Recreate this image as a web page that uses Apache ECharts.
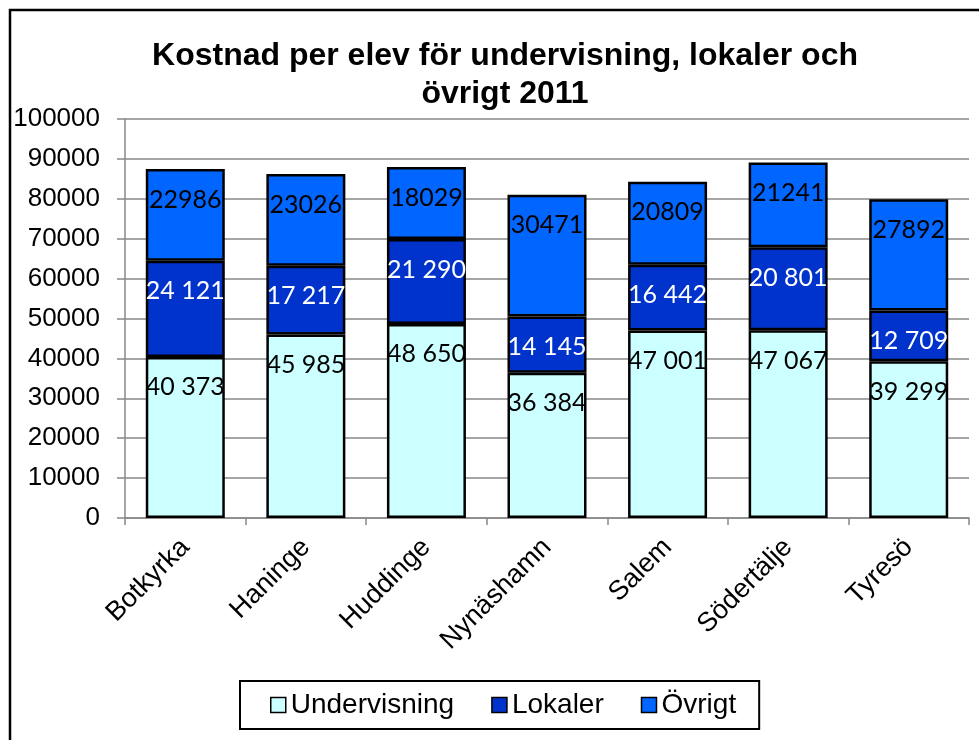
<!DOCTYPE html>
<html>
<head>
<meta charset="utf-8">
<script src="https://cdn.jsdelivr.net/npm/echarts@6/dist/echarts.min.js"></script>
<style>
  html, body { margin: 0; padding: 0; background: #fff; }
  #chart { width: 979px; height: 740px; }
</style>
</head>
<body>
<div id="chart"></div>
<script>
const kommuner = ["Botkyrka", "Haninge", "Huddinge", "Nynäshamn", "Salem", "Södertälje", "Tyresö"]
const undervisning = [40373, 45985, 48650, 36384, 47001, 47067, 39299]
const lokaler = [24121, 17217, 21290, 14145, 16442, 20801, 12709]
const ovrigt = [22986, 23026, 18029, 30471, 20809, 21241, 27892]
const yTicks = [0, 10000, 20000, 30000, 40000, 50000, 60000, 70000, 80000, 90000, 100000]

// mellanslag som tusentalsavgränsare, som i originalet
function spaced(v) {
  return String(v).replace(/\B(?=(\d{3})+(?!\d))/g, " ")
}

const labelBase = {
  show: true,
  position: "insideTop",
  distance: 18,
  fontFamily: "Lato",
  fontSize: 25,
  lineHeight: 25
}

const myChart = echarts.init(document.getElementById("chart"))
const option = {
  animation: false,
  textStyle: { fontFamily: "Liberation Sans, Arial, sans-serif" },
  title: {
    text: "Kostnad per elev för undervisning, lokaler och\növrigt 2011",
    left: 500,
    textAlign: "center",
    top: 32,
    textStyle: {
      fontFamily: "Liberation Sans, Arial, sans-serif",
      fontWeight: "bold",
      fontSize: 32,
      lineHeight: 38,
      color: "#000"
    }
  },
  graphic: [
    {
      type: "rect",
      shape: { x: 10, y: 10, width: 990, height: 760 },
      style: { fill: "none", stroke: "#000", lineWidth: 2.5 },
      silent: true
    }
  ],
  legend: {
    bottom: 11,
    left: 240,
    padding: [10, 23, 10, 30],
    borderColor: "#000",
    borderWidth: 2,
    itemWidth: 15,
    itemHeight: 15,
    itemGap: 37,
    icon: "rect",
    itemStyle: { borderColor: "#000", borderWidth: 1.5 },
    textStyle: {
      fontFamily: "Liberation Sans, Arial, sans-serif",
      fontSize: 28,
      color: "#000"
    },
    data: ["Undervisning", "Lokaler", "Övrigt"]
  },
  grid: {
    left: 125,
    right: 10,
    top: 119,
    bottom: 222,
    containLabel: false
  },
  xAxis: {
    type: "category",
    data: kommuner,
    axisLine: { lineStyle: { color: "#888", width: 1.5 } },
    axisTick: { show: true, length: 7, lineStyle: { color: "#888", width: 1.5 } },
    axisLabel: {
      rotate: 45,
      margin: 25,
      fontSize: 27,
      color: "#000",
      fontFamily: "Liberation Sans, Arial, sans-serif"
    }
  },
  yAxis: {
    type: "value",
    min: 0,
    max: 100000,
    interval: 10000,
    axisLine: { show: true, lineStyle: { color: "#888", width: 1.5 } },
    axisTick: { show: true, length: 8, lineStyle: { color: "#888", width: 1.5 } },
    splitLine: { lineStyle: { color: "#888", width: 1.5 } },
    axisLabel: {
      margin: 25,
      fontSize: 26,
      color: "#000",
      fontFamily: "Liberation Sans, Arial, sans-serif",
      formatter: function (v) {
        return yTicks.includes(v) ? String(v) : ""
      }
    }
  },
  series: [
    {
      name: "Undervisning",
      type: "bar",
      stack: "total",
      barWidth: 79,
      data: undervisning,
      itemStyle: { color: "#CCFFFF", borderColor: "#000", borderWidth: 2.5 },
      label: Object.assign({}, labelBase, {
        color: "#000",
        formatter: (p) => spaced(p.value)
      })
    },
    {
      name: "Lokaler",
      type: "bar",
      stack: "total",
      barWidth: 79,
      data: lokaler,
      itemStyle: { color: "#0033CC", borderColor: "#000", borderWidth: 2.5 },
      label: Object.assign({}, labelBase, {
        color: "#fff",
        formatter: (p) => spaced(p.value)
      })
    },
    {
      name: "Övrigt",
      type: "bar",
      stack: "total",
      barWidth: 79,
      data: ovrigt,
      itemStyle: { color: "#0066FF", borderColor: "#000", borderWidth: 2.5 },
      label: Object.assign({}, labelBase, {
        color: "#000",
        formatter: (p) => String(p.value)
      })
    }
  ]
}
myChart.setOption(option)
</script>
</body>
</html>
